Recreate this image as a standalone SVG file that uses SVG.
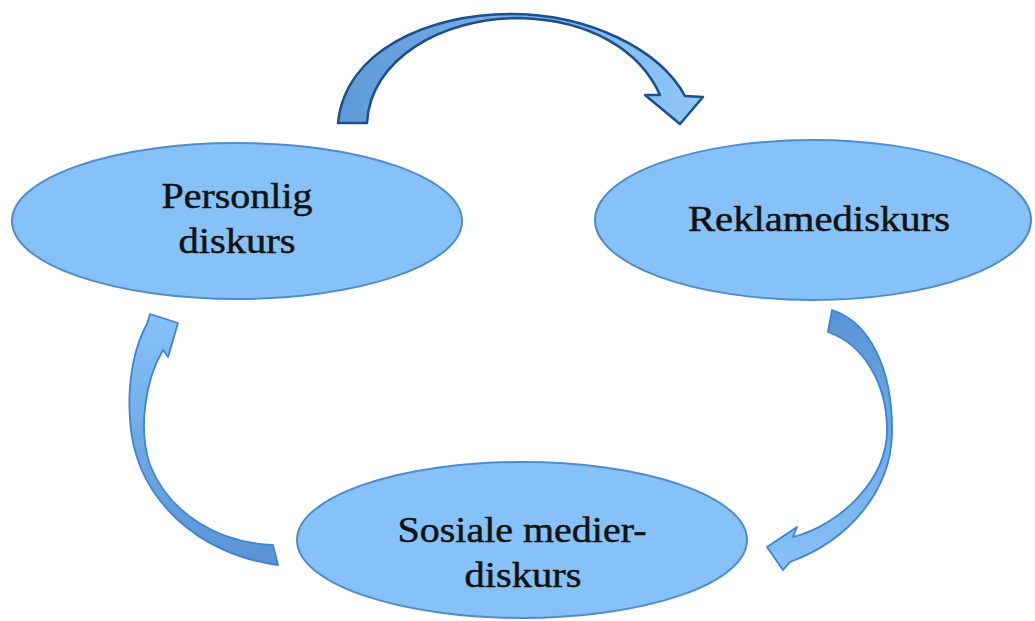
<svg xmlns="http://www.w3.org/2000/svg" width="1035" height="621" viewBox="0 0 1035 621">
  <defs>
    <linearGradient id="gTop" x1="338" y1="0" x2="703" y2="0" gradientUnits="userSpaceOnUse">
      <stop offset="0" stop-color="#5f9ad8"/>
      <stop offset="1" stop-color="#8fc8f6"/>
    </linearGradient>
    <linearGradient id="gRight" x1="0" y1="310" x2="0" y2="570" gradientUnits="userSpaceOnUse">
      <stop offset="0" stop-color="#5a93d4"/>
      <stop offset="1" stop-color="#86c2f7"/>
    </linearGradient>
    <linearGradient id="gLeft" x1="0" y1="565" x2="0" y2="314" gradientUnits="userSpaceOnUse">
      <stop offset="0" stop-color="#5a93d4"/>
      <stop offset="1" stop-color="#86c2f7"/>
    </linearGradient>
    <style>
      .node { fill: #86c2f7; stroke: #4f8ccc; stroke-width: 2; }
      .label { font-family: "Liberation Serif", "DejaVu Serif", serif; font-size: 36px; fill: #121212; stroke: #121212; stroke-width: 0.5; text-anchor: middle; }
      .arrow { stroke-linejoin: round; }
      .arrow-top { stroke: #1d4f8e; stroke-width: 2.5; }
      .arrow-side { stroke: #3d83d6; stroke-width: 1.8; }
    </style>
  </defs>

  <rect width="1035" height="621" fill="#ffffff"/>

  <g id="connectors">
    <!-- Personlig -> Reklame (top curved arrow) -->
    <path class="arrow arrow-top" fill="url(#gTop)"
      d="M338,123 C345,50 430,14 510,14 C590,14 660,50 685,96 L703,97 L680,124 L645,95 L660,95 C640,50 590,20 520,18 C440,18 370,60 367,123 Z"/>
    <!-- Reklame -> Sosiale medier (right curved arrow) -->
    <path class="arrow arrow-side" fill="url(#gRight)"
      d="M832,310 C870,322 893,370 892,433 C891,490 850,540 790,562 L783,570 L767,547 L797,527 L793,537 C840,525 887,480 887,430 C887,385 865,345 828,332 Z"/>
    <!-- Sosiale medier -> Personlig (left curved arrow) -->
    <path class="arrow arrow-side" fill="url(#gLeft)"
      d="M278,565 C200,555 135,500 130,420 C127,380 135,345 147,324 L150,314 L178,323 L168,357 L163,350 C145,380 138,430 150,465 C170,515 220,543 273,545 Z"/>
  </g>

  <g id="node-personlig">
    <ellipse class="node" cx="237" cy="221" rx="225" ry="78"/>
    <text class="label" x="237" y="208" textLength="151" lengthAdjust="spacingAndGlyphs">Personlig</text>
    <text class="label" x="237" y="253" textLength="117" lengthAdjust="spacingAndGlyphs">diskurs</text>
  </g>

  <g id="node-reklame">
    <ellipse class="node" cx="813" cy="220" rx="218" ry="80"/>
    <text class="label" x="819" y="231" textLength="262" lengthAdjust="spacingAndGlyphs">Reklamediskurs</text>
  </g>

  <g id="node-sosiale">
    <ellipse class="node" cx="522" cy="540" rx="225" ry="78"/>
    <text class="label" x="522" y="542" textLength="249" lengthAdjust="spacingAndGlyphs">Sosiale medier-</text>
    <text class="label" x="523" y="587" textLength="117" lengthAdjust="spacingAndGlyphs">diskurs</text>
  </g>
</svg>
